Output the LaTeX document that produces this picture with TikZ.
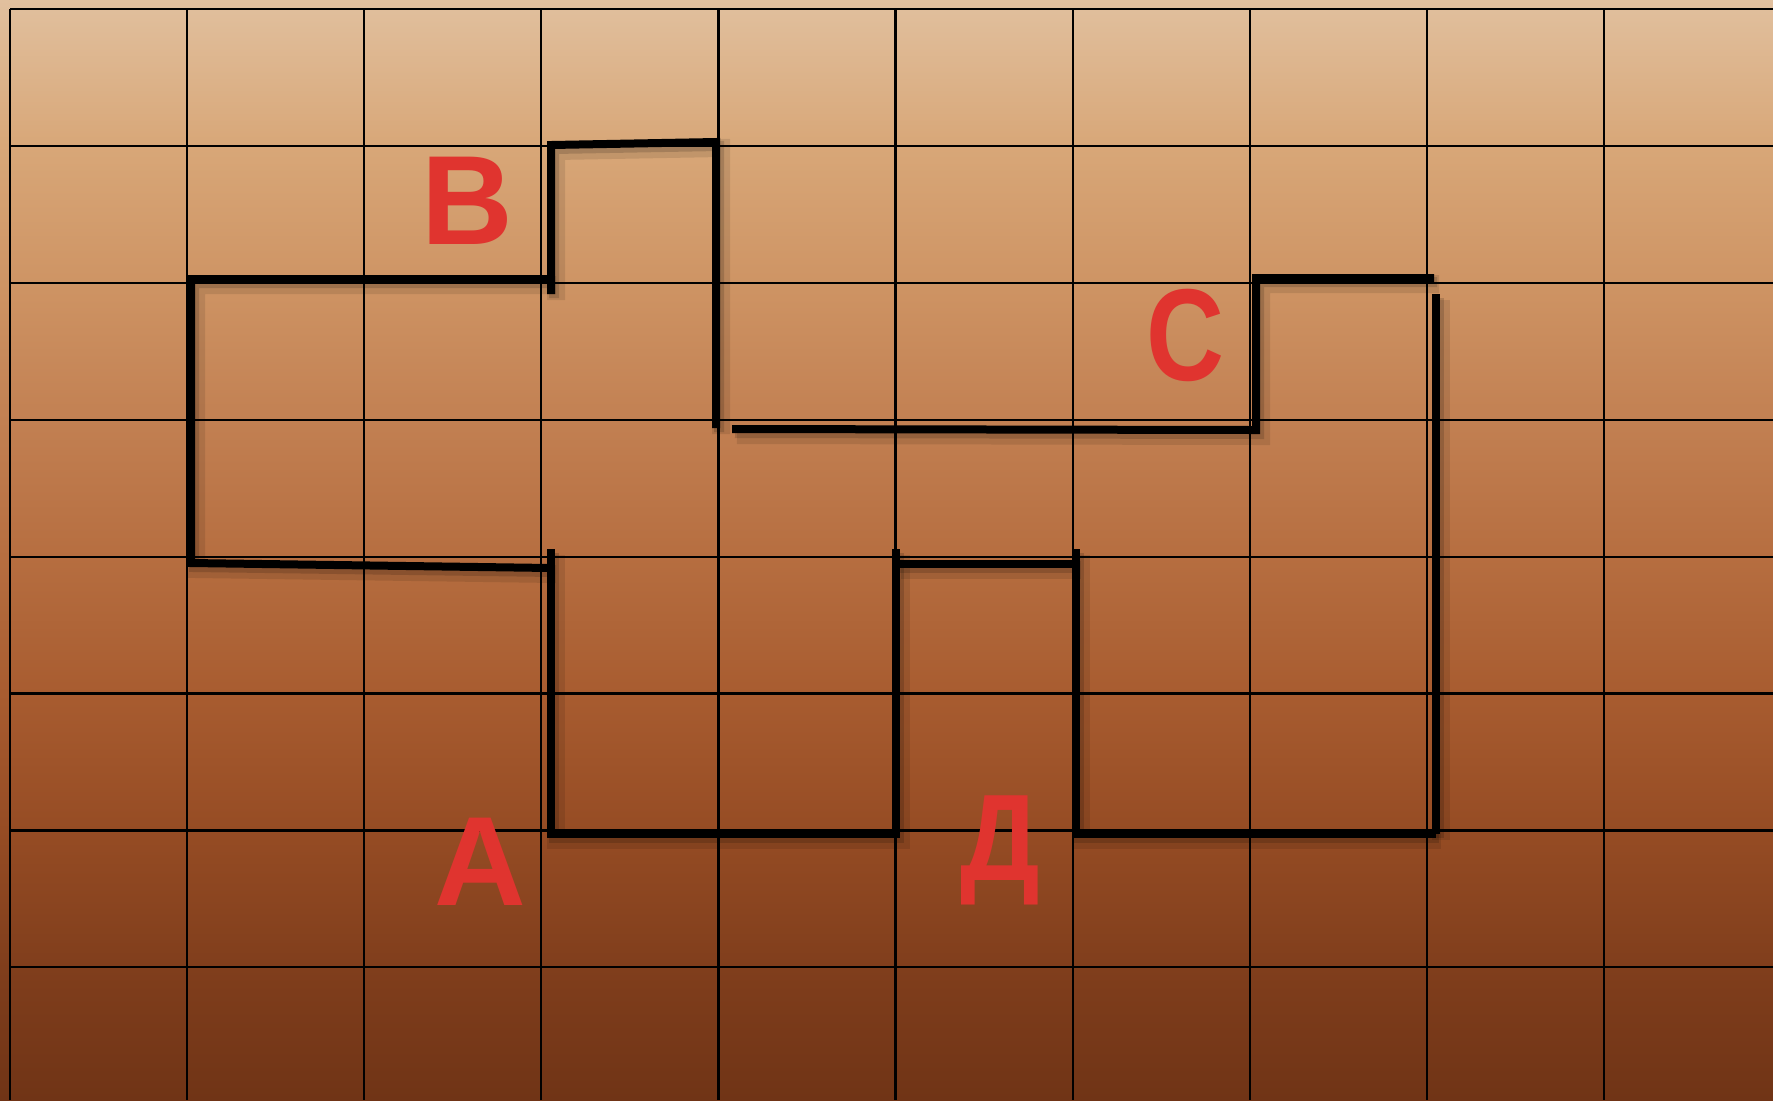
\documentclass[tikz,border=0pt]{standalone}
\usepackage{fontspec}
\setmainfont{Liberation Sans}
\definecolor{lblred}{RGB}{224,52,47}
\pgfdeclareverticalshading{bgshade}{100bp}{%
  rgb(0bp)=(0.439,0.204,0.086);
  rgb(25bp)=(0.439,0.204,0.086);
  rgb(31bp)=(0.502,0.243,0.110);
  rgb(37.3bp)=(0.588,0.298,0.141);
  rgb(43.5bp)=(0.659,0.361,0.188);
  rgb(49.7bp)=(0.714,0.431,0.251);
  rgb(55.9bp)=(0.761,0.502,0.322);
  rgb(62.1bp)=(0.808,0.580,0.392);
  rgb(68.4bp)=(0.847,0.655,0.471);
  rgb(75bp)=(0.882,0.753,0.620);
  rgb(100bp)=(0.882,0.753,0.620)}
\newcommand\mywalls[1]{%
  \draw[#1] (551,294) -- (551,145) -- (716,142) -- (716,428);
  \draw[#1] (551,279) -- (191,279) -- (191,563) -- (551,568);
  \draw[#1] (732,429) -- (1256,430) -- (1256,278) -- (1434,278);
  \draw[#1] (1436,294) -- (1436,834);
  \draw[#1] (551,549) -- (551,834) -- (896,834) -- (896,549);
  \draw[#1] (896,564) -- (1076,564);
  \draw[#1] (1076,549) -- (1076,834) -- (1436,834);
}
\begin{document}
\begin{tikzpicture}[x=0.5pt,y=-0.5pt,
  gridline/.style={black, line width=1.1pt},
  wall/.style={black, line width=4pt, line join=miter},
  wallshadowA/.style={black, opacity=0.10, line width=9pt, line join=miter},
  wallshadowB/.style={black, opacity=0.15, line width=5pt, line join=miter},
  lbl/.style={text=lblred, font=\fontsize{63.5}{70}\selectfont\bfseries, inner sep=0pt, anchor=base}]
\useasboundingbox (0,0) rectangle (1773,1100);
\shade[shading=bgshade] (0,0) rectangle (1773,1100);
\foreach \i in {0,...,9} \draw[gridline] ({10+177.1*\i},9) -- ({10+177.1*\i},1100);
\foreach \j in {0,...,7} \draw[gridline] (10,{9+136.9*\j}) -- (1773,{9+136.9*\j});
\begin{scope}[shift={(5,6)}]
  \mywalls{wallshadowA}
\end{scope}
\begin{scope}[shift={(3,4)}]
  \mywalls{wallshadowB}
\end{scope}
\mywalls{wall}
\node[lbl] (B) at (467,244) {В};
\node[lbl, xscale=0.85, yscale=1.03] (C) at (1185,380) {С};
\node[lbl] (A) at (480,905) {А};
\node[lbl, xscale=0.88, yscale=0.97] (D) at (1000,880) {Д};
\end{tikzpicture}
\end{document}
